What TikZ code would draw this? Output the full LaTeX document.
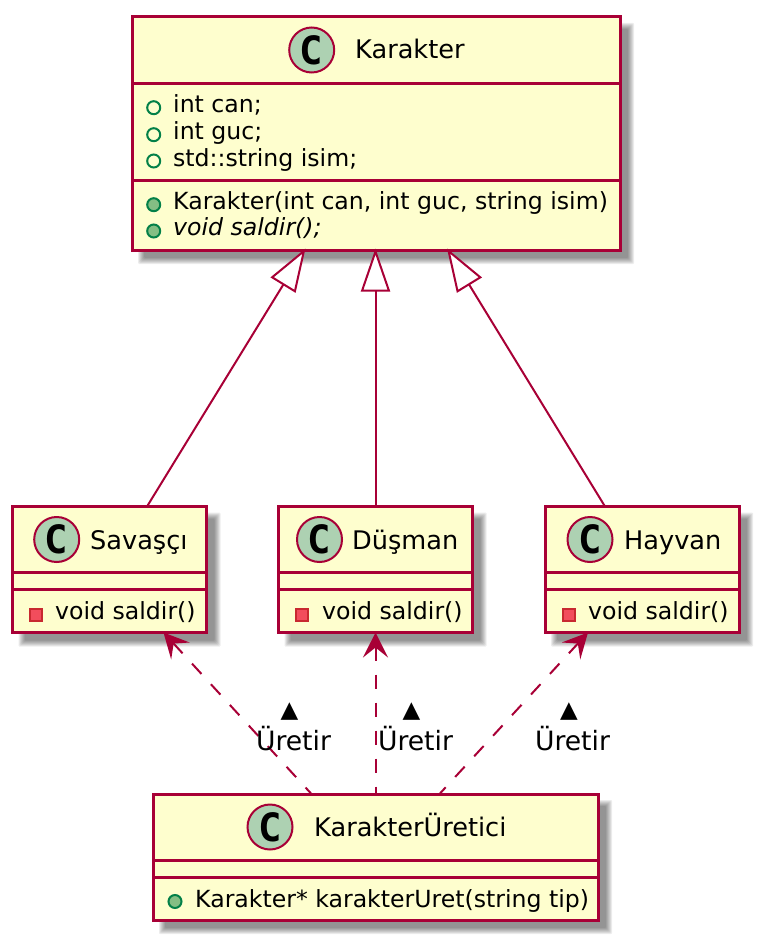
\documentclass[tikz,border=0pt]{standalone}
\usepackage{fontspec}
\setmainfont{DejaVu Sans}
\newfontfamily\spotfont{DejaVu Sans Mono}
\usetikzlibrary{arrows.meta,calc}

\definecolor{classBack}{HTML}{FEFECE}
\definecolor{classLine}{HTML}{A80036}
\definecolor{spotBack}{HTML}{ADD1B2}
\definecolor{pubLine}{HTML}{038048}
\definecolor{pubFill}{HTML}{84BE84}
\definecolor{privLine}{HTML}{C82930}
\definecolor{privFill}{HTML}{F24D5C}

\tikzset{
    classbody/.style={draw=classLine, fill=classBack, line width=3pt, inner sep=0pt, outer sep=0pt},
    classname/.style={anchor=base west, inner sep=0pt, font=\fontsize{25.6}{30}\selectfont},
    member/.style={anchor=base west, inner sep=0pt, font=\fontsize{23.6}{27}\selectfont},
    reltext/.style={align=center, inner sep=0pt, font=\fontsize{26.6}{33}\selectfont},
    spot/.style={circle, draw=classLine, fill=spotBack, line width=2pt, minimum size=45pt, inner sep=0pt,
        font=\fontsize{39}{39}\spotfont\bfseries},
    pubattr/.style={circle, draw=pubLine, line width=2pt, minimum size=13pt, inner sep=0pt},
    pubmeth/.style={pubattr, fill=pubFill},
    privmeth/.style={rectangle, draw=privLine, fill=privFill, line width=2pt, minimum size=12pt, inner sep=0pt},
    inherit/.style={classLine, line width=2pt, -{Triangle[open, length=43pt, width=29pt, fill=white]}},
    produces/.style={classLine, line width=2pt, dash pattern=on 14pt off 14pt, {Stealth[length=25pt, width=25pt, inset=10pt]}-},
}

% name, center x, center y, width, height, first rule y, second rule y
\newcommand{\classbox}[7]{
    \foreach \s in {4,3,2,1,0,-1,-2}
        \fill[black, opacity=0.075, rounded corners=1pt]
            ({#2-#4/2+10-\s},{#3-#5/2+10-\s}) rectangle ({#2+#4/2+10+\s},{#3+#5/2+10+\s});
    \node[classbody, minimum width=#4pt, minimum height=#5pt] (#1) at (#2,#3) {};
    \draw[classLine, line width=3pt] (#1.west |- 0,#6) -- (#1.east |- 0,#6);
    \draw[classLine, line width=3pt] (#1.west |- 0,#7) -- (#1.east |- 0,#7);
}

\begin{document}
\begin{tikzpicture}[x=1pt, y=-1pt, line cap=butt, line join=miter]

    \useasboundingbox (0,0) rectangle (760,941);

    % class boxes
    \classbox{karakter}{376}{133.5}{488}{233}{83.5}{180.5}
    \classbox{savasci}{109.5}{569.5}{194}{126}{572.5}{589.5}
    \classbox{dusman}{375.5}{569.5}{194}{126}{572.5}{589.5}
    \classbox{hayvan}{642}{569.5}{194}{126}{572.5}{589.5}
    \classbox{uretici}{375.5}{857}{445}{126}{860}{877}

    % class headers
    \node[spot] (karakterSpot) at (311.7,50) {C};
    \node[classname] (karakterName) at (355,59) {Karakter};
    \node[spot] (savasciSpot) at (56.7,539.5) {C};
    \node[classname] (savasciName) at (90,549) {Savaşçı};
    \node[spot] (dusmanSpot) at (319.5,539.5) {C};
    \node[classname] (dusmanName) at (352,549) {Düşman};
    \node[spot] (hayvanSpot) at (590,539.5) {C};
    \node[classname] (hayvanName) at (624,549) {Hayvan};
    \node[spot] (ureticiSpot) at (270,827) {C};
    \node[classname] (ureticiName) at (314,836) {KarakterÜretici};

    % Karakter members
    \node[pubattr] (canIcon) at (153.7,107.7) {};
    \node[member] (canText) at (173,113) {int can;};
    \node[pubattr] (gucIcon) at (153.7,134.7) {};
    \node[member] (gucText) at (173,139.5) {int guc;};
    \node[pubattr] (isimIcon) at (153.7,161) {};
    \node[member] (isimText) at (173,166.5) {std::string isim;};
    \node[pubmeth] (ctorIcon) at (153.7,204.7) {};
    \node[member] (ctorText) at (173,210) {Karakter(int can, int guc, string isim)};
    \node[pubmeth] (saldirIcon) at (153.7,231) {};
    \node[member] (saldirText) at (173,236) {\itshape void saldir();};

    % methods of the subclasses
    \node[privmeth] (savasciIcon) at (35.7,614.5) {};
    \node[member] (savasciText) at (55,619.5) {void saldir()};
    \node[privmeth] (dusmanIcon) at (302,614.5) {};
    \node[member] (dusmanText) at (322,619.5) {void saldir()};
    \node[privmeth] (hayvanIcon) at (568.5,614.5) {};
    \node[member] (hayvanText) at (588,619.5) {void saldir()};
    \node[pubmeth] (uretIcon) at (175,901.5) {};
    \node[member] (uretText) at (195,907) {Karakter* karakterUret(string tip)};

    % inheritance
    \draw[inherit] ($(savasci.north)+(37.5,0)$) -- ($(karakter.south)+(-70.5,-1.5)$);
    \draw[inherit] (dusman.north) -- ($(dusman.north |- karakter.south)+(0,-1.5)$);
    \draw[inherit] ($(hayvan.north)+(-37,0)$) -- ($(karakter.south)+(71,-1.5)$);

    % dependencies (dashed with open head at the product)
    \draw[produces] ($(savasci.south)+(54,0)$) -- ($(uretici.north)+(-64,0)$);
    \draw[produces] (dusman.south) -- (uretici.north);
    \draw[produces] ($(hayvan.south)+(-54,0)$) -- ($(uretici.north)+(64,0)$);

    % relation labels
    \node[reltext] (uretirA) at (293.5,727) {{\fontsize{23}{33}\selectfont ▲}\hspace*{8pt}\\Üretir};
    \node[reltext] (uretirB) at (415.5,727) {{\fontsize{23}{33}\selectfont ▲}\hspace*{8pt}\\Üretir};
    \node[reltext] (uretirC) at (572.5,727) {{\fontsize{23}{33}\selectfont ▲}\hspace*{7pt}\\Üretir};

\end{tikzpicture}
\end{document}
